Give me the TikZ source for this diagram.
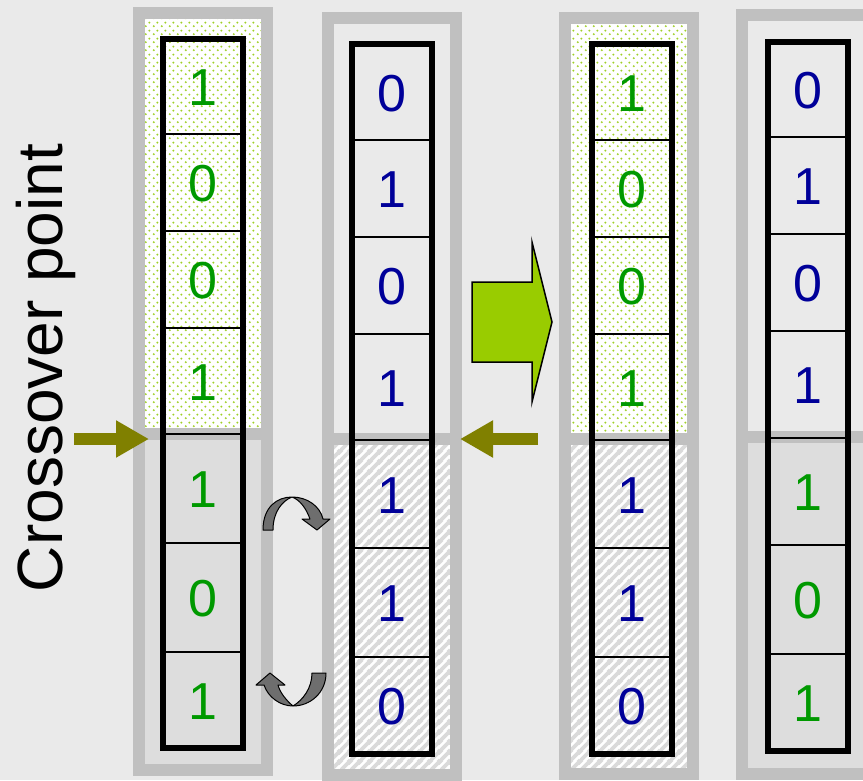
\documentclass[tikz,border=0pt]{standalone}
\usepackage{fontspec}
\setmainfont{Liberation Sans}
\usetikzlibrary{patterns.meta,arrows.meta}
\definecolor{bg}{RGB}{234,234,234}
\definecolor{framegray}{RGB}{192,192,192}
\definecolor{lowfill}{RGB}{221,221,221}
\definecolor{stripe}{RGB}{218,218,218}
\definecolor{dotgreen}{RGB}{160,208,40}
\definecolor{digitgreen}{RGB}{0,153,0}
\definecolor{digitblue}{RGB}{0,0,153}
\definecolor{bigarrow}{RGB}{153,204,0}
\definecolor{olivearr}{RGB}{128,128,0}
\definecolor{curlgray}{RGB}{110,110,110}

\tikzdeclarepattern{
  name=greendots,
  type=colored,
  bottom left={(0pt,0pt)},
  top right={(8pt,8pt)},
  tile size={(8pt,8pt)},
  code={
    \fill[dotgreen] (2pt,2pt) circle (1.2pt);
    \fill[dotgreen] (6pt,6pt) circle (1.2pt);
  }
}
\tikzdeclarepattern{
  name=greystripes,
  type=colored,
  bottom left={(0pt,0pt)},
  top right={(10pt,10pt)},
  tile size={(10pt,10pt)},
  code={
    \draw[stripe, line width=4pt] (-2pt,-2pt) -- (12pt,12pt);
    \draw[stripe, line width=4pt] (-7pt,3pt) -- (7pt,17pt);
    \draw[stripe, line width=4pt] (3pt,-7pt) -- (17pt,7pt);
  }
}

\begin{document}
\begin{tikzpicture}[x=1pt,y=-1pt,
  frame/.style={draw=framegray, line width=12pt},
  bar/.style={draw=black, line width=6pt},
  divider/.style={draw=black, line width=2pt},
  digit/.style={font=\fontsize{52}{52}\selectfont, inner sep=0pt},
  curl/.style={fill=curlgray, draw=black, line width=1pt, line join=round},
  olivearrow/.style={draw=olivearr, line width=12pt, -{Triangle[length=33pt,width=35pt]}},
  bigarrowstyle/.style={fill=bigarrow, draw=black, line width=1.5pt, line join=miter}
]
\useasboundingbox (0,0) rectangle (863,780);
\fill[bg] (0,0) rectangle (863,780);
\begin{scope}
\clip (0,0) rectangle (863,780);

% ---------- column 1 ----------
\fill[white] (145,18) rectangle (261,428);
\fill[pattern=greendots] (145,18) rectangle (261,428);
\fill[lowfill] (145,439) rectangle (261,764);
\draw[frame] (139,13) rectangle (267,770);
\draw[frame] (139,433.5) -- (267,433.5);

% ---------- column 2 ----------
\fill[white] (334,445) rectangle (450,769);
\fill[pattern=greystripes] (334,445) rectangle (450,769);
\draw[frame] (328,18) rectangle (456,775);
\draw[frame] (328,439) -- (456,439);

% ---------- column 3 ----------
\fill[white] (571,24) rectangle (687,433);
\fill[pattern=greendots] (571,24) rectangle (687,433);
\fill[white] (571,445) rectangle (687,768);
\fill[pattern=greystripes] (571,445) rectangle (687,768);
\draw[frame] (565,18) rectangle (693,774);
\draw[frame] (565,439) -- (693,439);

% ---------- column 4 ----------
\fill[lowfill] (747,442) rectangle (863,768);
\draw[frame] (742,15) rectangle (869,774);
\draw[frame] (742,436.5) -- (869,436.5);

% ---------- black bars ----------
\draw[bar] (163,39) rectangle (243,748);
\foreach \yy in {134,231,328,434,543,652} \draw[divider] (163,\yy) -- (243,\yy);
\draw[bar] (352,44) rectangle (432,753.5);
\foreach \yy in {140,237,334,440,548,657} \draw[divider] (352,\yy) -- (432,\yy);
\draw[bar] (592,44) rectangle (672,753.5);
\foreach \yy in {140,237,334,440,548,657} \draw[divider] (592,\yy) -- (672,\yy);
\draw[bar] (768,42) rectangle (848,750.5);
\foreach \yy in {137,234,331,438,545,654} \draw[divider] (768,\yy) -- (848,\yy);

% ---------- digits ----------
\foreach \yy/\d/\c [count=\i] in {86.5/1/digitgreen,182.5/0/digitgreen,279.5/0/digitgreen,381/1/digitgreen,488.5/1/digitgreen,597.5/0/digitgreen,700/1/digitgreen}
  \node[digit, text=\c] (pa\i) at (203,{\yy+1.5}) {\d};
\foreach \yy/\d/\c [count=\i] in {92/0/digitblue,188.5/1/digitblue,285.5/0/digitblue,387/1/digitblue,494/1/digitblue,602.5/1/digitblue,705.25/0/digitblue}
  \node[digit, text=\c] (pb\i) at (392,{\yy+1.5}) {\d};
\foreach \yy/\d/\c [count=\i] in {92/1/digitgreen,188.5/0/digitgreen,285.5/0/digitgreen,387/1/digitgreen,494/1/digitblue,602.5/1/digitblue,705.25/0/digitblue}
  \node[digit, text=\c] (ca\i) at (632,{\yy+1.5}) {\d};
\foreach \yy/\d/\c [count=\i] in {89.5/0/digitblue,185.5/1/digitblue,282.5/0/digitblue,384.5/1/digitblue,491.5/1/digitgreen,599.5/0/digitgreen,702.25/1/digitgreen}
  \node[digit, text=\c] (cb\i) at (808,{\yy+1.5}) {\d};

% ---------- crossover label and arrows ----------
\node[rotate=90, anchor=base, inner sep=0pt, font=\fontsize{64}{64}\selectfont] (xlabel) at (62,368) {Crossover point};
\coordinate (xoAstart) at (74,439);
\coordinate (xoAtip) at (149,439);
\coordinate (xoBstart) at (538,439);
\coordinate (xoBtip) at (460,439);
\draw[olivearrow] (xoAstart) -- (xoAtip);
\draw[olivearrow] (xoBstart) -- (xoBtip);

% ---------- big green arrow ----------
\draw[bigarrowstyle] (472,282) -- (532,282) -- (532,242) -- (552,322) -- (532,402) -- (532,362) -- (472,362) -- cycle;

% ---------- swap arrows ----------
\draw[curl] (273,530) -- (263,530) .. controls (263,507) and (277,497) .. (292,497)
  .. controls (307,497) and (320,506) .. (323,519) -- (330,519) -- (317,530) -- (302,519) -- (310,519)
  .. controls (306,508) and (300,500) .. (292,497)
  .. controls (282,501) and (273,512) .. (273,530) -- cycle;
\draw[curl] (312,673) -- (326,673) .. controls (326,693) and (310,706) .. (293,706)
  .. controls (287,701) and (280,693) .. (278,685) -- (285,685) -- (270,673) -- (256,685) -- (264,685)
  .. controls (268,697) and (280,706) .. (293,706)
  .. controls (303,700) and (312,688) .. (312,673) -- cycle;
\end{scope}
\end{tikzpicture}
\end{document}
